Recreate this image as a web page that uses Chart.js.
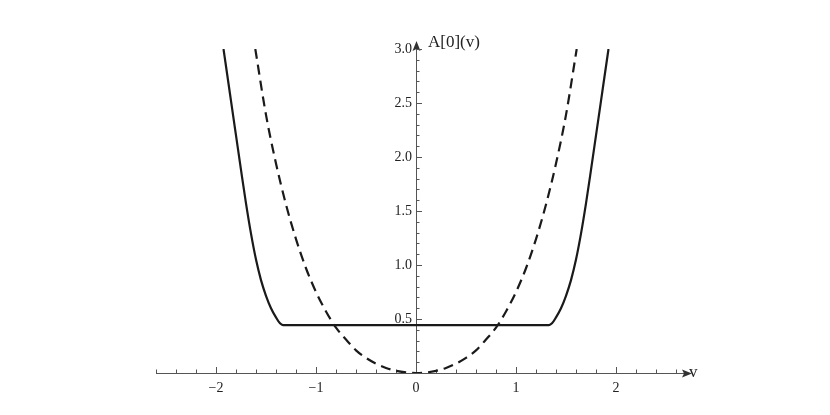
<!DOCTYPE html>
<html>
<head>
<meta charset="utf-8">
<script src="https://cdn.jsdelivr.net/npm/chart.js@4/dist/chart.umd.min.js"></script>
<style>
  html, body { margin: 0; padding: 0; background: #fff; }
  #wrap { width: 830px; height: 415px; }
</style>
</head>
<body>
<div id="wrap"><canvas id="plot"></canvas></div>
<script>
// values
var dashX = [-1.607, -1.5, -1.4, -1.3, -1.2, -1.1, -1.0, -0.9, -0.8, -0.7, -0.6, -0.5, -0.4, -0.3, -0.2, -0.1, 0,
             0.1, 0.2, 0.3, 0.4, 0.5, 0.6, 0.7, 0.8, 0.9, 1.0, 1.1, 1.2, 1.3, 1.4, 1.5, 1.607];
var dashY = [3.0, 2.39, 1.94, 1.56, 1.24, 0.97, 0.75, 0.57, 0.42, 0.31, 0.21, 0.14, 0.087, 0.047, 0.02, 0.005, 0,
             0.005, 0.02, 0.047, 0.087, 0.14, 0.21, 0.31, 0.42, 0.57, 0.75, 0.97, 1.24, 1.56, 1.94, 2.39, 3.0];

var solidX = [-1.925, -1.90, -1.85, -1.80, -1.75, -1.70, -1.65, -1.60, -1.55, -1.50, -1.45, -1.40, -1.36, -1.33,
              1.33, 1.36, 1.40, 1.45, 1.50, 1.55, 1.60, 1.65, 1.70, 1.75, 1.80, 1.85, 1.90, 1.925];
var solidY = [3.0, 2.84, 2.52, 2.20, 1.88, 1.57, 1.29, 1.05, 0.86, 0.715, 0.60, 0.515, 0.46, 0.444,
              0.444, 0.46, 0.515, 0.60, 0.715, 0.86, 1.05, 1.29, 1.57, 1.88, 2.20, 2.52, 2.84, 3.0];

var xTickLabels = [-2, -1, 0, 1, 2];
var yTickLabels = [0.5, 1.0, 1.5, 2.0, 2.5, 3.0];

function pts(xs, ys) {
    var out = [];
    for (var i = 0; i < xs.length; i++) out.push({x: xs[i], y: ys[i]});
    return out;
}

var axesPlugin = {
    id: 'mathAxes',
    beforeDatasetsDraw: function(chart) {
        var ctx = chart.ctx;
        var sx = chart.scales.x, sy = chart.scales.y;
        var x0 = sx.getPixelForValue(0), y0 = sy.getPixelForValue(0);
        var xl = sx.getPixelForValue(sx.min), xr = sx.getPixelForValue(sx.max);
        var yt = sy.getPixelForValue(sy.max);
        ctx.save();
        ctx.strokeStyle = '#555';
        ctx.fillStyle = '#333';
        ctx.lineWidth = 1;
        // axis lines
        ctx.beginPath();
        ctx.moveTo(xl, y0 + 0.5); ctx.lineTo(xr + 4, y0 + 0.5);
        ctx.moveTo(x0 + 0.5, y0); ctx.lineTo(x0 + 0.5, yt - 4);
        ctx.stroke();
        // arrows
        ctx.beginPath();
        ctx.moveTo(xr + 8, y0 + 0.5); ctx.lineTo(xr - 2, y0 - 3.5); ctx.lineTo(xr, y0 + 0.5); ctx.lineTo(xr - 2, y0 + 4.5);
        ctx.closePath(); ctx.fill();
        ctx.beginPath();
        ctx.moveTo(x0 + 0.5, yt - 8); ctx.lineTo(x0 - 3.5, yt + 2); ctx.lineTo(x0 + 0.5, yt); ctx.lineTo(x0 + 4.5, yt + 2);
        ctx.closePath(); ctx.fill();
        // x ticks every 0.2
        ctx.beginPath();
        for (var k = -13; k <= 13; k++) {
            var v = k * 0.2;
            var px = Math.round(sx.getPixelForValue(v)) + 0.5;
            var len = (k % 5 === 0) ? 6 : 3.5;
            ctx.moveTo(px, y0); ctx.lineTo(px, y0 - len);
        }
        // y ticks every 0.1
        for (var j = 1; j <= 30; j++) {
            var py = Math.round(sy.getPixelForValue(j * 0.1)) + 0.5;
            var ln = (j % 5 === 0) ? 6 : 3.5;
            ctx.moveTo(x0, py); ctx.lineTo(x0 + ln, py);
        }
        ctx.stroke();
        // tick labels
        ctx.fillStyle = '#222';
        ctx.font = '14px "Liberation Serif", "DejaVu Serif", serif';
        ctx.textAlign = 'center';
        ctx.textBaseline = 'top';
        xTickLabels.forEach(function(v) {
            var s = v < 0 ? '\u2212' + Math.abs(v) : String(v);
            ctx.fillText(s, sx.getPixelForValue(v), y0 + 8);
        });
        ctx.textAlign = 'right';
        ctx.textBaseline = 'middle';
        yTickLabels.forEach(function(v) {
            ctx.fillText(v.toFixed(1), x0 - 4, sy.getPixelForValue(v));
        });
        // axis titles
        ctx.font = '17px "Liberation Serif", "DejaVu Serif", serif';
        ctx.textAlign = 'left';
        ctx.fillText('A[0](v)', x0 + 12, yt - 6);
        ctx.fillText('v', xr + 5, y0);
        ctx.restore();
    }
};

new Chart(document.getElementById('plot'), {
    type: 'scatter',
    data: {
        datasets: [{
            data: pts(solidX, solidY),
            showLine: true,
            borderColor: '#1a1a1a',
            borderWidth: 2.2,
            pointRadius: 0,
            cubicInterpolationMode: 'monotone',
            fill: false
        }, {
            data: pts(dashX, dashY),
            showLine: true,
            borderColor: '#1a1a1a',
            borderWidth: 2.2,
            borderDash: [10, 6],
            pointRadius: 0,
            cubicInterpolationMode: 'monotone',
            fill: false
        }]
    },
    options: {
        responsive: true,
        maintainAspectRatio: false,
        animation: false,
        layout: { padding: { left: 156, right: 146, top: 49, bottom: 42 } },
        plugins: { legend: { display: false }, tooltip: { enabled: false } },
        scales: {
            x: { type: 'linear', min: -2.6, max: 2.68, display: false },
            y: { type: 'linear', min: 0, max: 3.0, display: false }
        }
    },
    plugins: [axesPlugin]
});
</script>
</body>
</html>
